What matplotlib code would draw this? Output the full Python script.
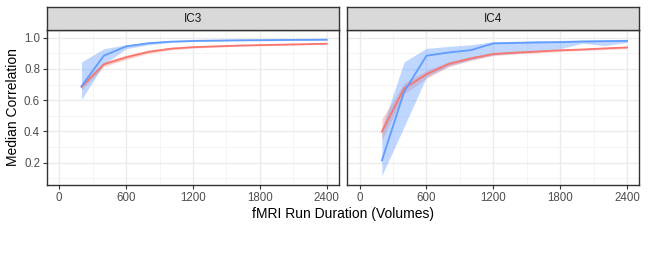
import matplotlib.pyplot as plt
from matplotlib.ticker import MultipleLocator

plt.rcParams['font.family'] = ['Liberation Sans', 'DejaVu Sans']

volumes = [200, 400, 600, 800, 1000, 1200, 1400, 1600, 1800, 2000, 2200, 2400]

# IC3
ic3_blue = [0.69, 0.885, 0.945, 0.965, 0.975, 0.98, 0.982, 0.984, 0.985, 0.986, 0.987, 0.988]
ic3_blue_lo = [0.605, 0.83, 0.93, 0.955, 0.97, 0.976, 0.978, 0.98, 0.981, 0.982, 0.983, 0.984]
ic3_blue_hi = [0.845, 0.93, 0.955, 0.972, 0.979, 0.984, 0.986, 0.988, 0.989, 0.99, 0.991, 0.992]
ic3_red = [0.685, 0.83, 0.875, 0.91, 0.93, 0.94, 0.945, 0.95, 0.953, 0.956, 0.959, 0.962]
ic3_red_lo = [0.665, 0.815, 0.862, 0.9, 0.922, 0.934, 0.94, 0.945, 0.949, 0.952, 0.955, 0.958]
ic3_red_hi = [0.71, 0.845, 0.888, 0.92, 0.938, 0.946, 0.95, 0.955, 0.958, 0.961, 0.963, 0.966]

# IC4
ic4_blue = [0.213, 0.654, 0.885, 0.906, 0.921, 0.964, 0.967, 0.97, 0.972, 0.976, 0.978, 0.98]
ic4_blue_lo = [0.117, 0.43, 0.75, 0.82, 0.86, 0.89, 0.9, 0.91, 0.93, 0.965, 0.95, 0.97]
ic4_blue_hi = [0.42, 0.846, 0.932, 0.945, 0.955, 0.975, 0.978, 0.981, 0.983, 0.986, 0.988, 0.99]
ic4_red = [0.398, 0.676, 0.766, 0.832, 0.868, 0.896, 0.905, 0.912, 0.92, 0.925, 0.932, 0.938]
ic4_red_lo = [0.345, 0.64, 0.74, 0.815, 0.855, 0.886, 0.896, 0.904, 0.912, 0.918, 0.925, 0.931]
ic4_red_hi = [0.48, 0.71, 0.79, 0.848, 0.88, 0.905, 0.913, 0.92, 0.927, 0.932, 0.939, 0.945]

panels = [
    ("IC3", ic3_blue, ic3_blue_lo, ic3_blue_hi, ic3_red, ic3_red_lo, ic3_red_hi),
    ("IC4", ic4_blue, ic4_blue_lo, ic4_blue_hi, ic4_red, ic4_red_lo, ic4_red_hi),
]

BLUE = "#619CFF"
RED = "#F8766D"
BORDER = "#333333"

fig = plt.figure(figsize=(6.48, 2.78), dpi=100)
lefts = [0.0725, 0.536]
for i, (name, b, blo, bhi, r, rlo, rhi) in enumerate(panels):
    ax = fig.add_axes([lefts[i], 0.3345, 0.4506, 0.5576])
    # red first, blue ribbon on top (tints the red line where they overlap)
    ax.fill_between(volumes, rlo, rhi, color=RED, alpha=0.35, lw=0)
    ax.plot(volumes, r, color=RED, lw=1.3)
    ax.fill_between(volumes, blo, bhi, color=BLUE, alpha=0.4, lw=0)
    ax.plot(volumes, b, color=BLUE, lw=1.3)

    ax.set_xlim(-110, 2510)
    ax.set_ylim(0.056, 1.05)
    ax.xaxis.set_major_locator(MultipleLocator(600))
    ax.xaxis.set_minor_locator(MultipleLocator(300))
    ax.yaxis.set_major_locator(MultipleLocator(0.2))
    ax.yaxis.set_minor_locator(MultipleLocator(0.1))
    ax.set_xticks([0, 600, 1200, 1800, 2400])
    ax.grid(which='major', color='#EBEBEB', lw=1.0)
    ax.grid(which='minor', color='#F2F2F2', lw=0.6)
    ax.set_axisbelow(True)
    for s in ax.spines.values():
        s.set_color(BORDER)
        s.set_linewidth(1.0)
    ax.tick_params(which='major', length=3, width=0.8, color=BORDER,
                   labelsize=8.3, labelcolor='#4D4D4D', pad=2)
    ax.tick_params(which='minor', length=0)
    if i == 0:
        ax.set_yticks([0.2, 0.4, 0.6, 0.8, 1.0])
        ax.set_yticklabels(["0.2", "0.4", "0.6", "0.8", "1.0"])
        ax.set_ylabel("Median Correlation", fontsize=10, labelpad=3)
    else:
        ax.tick_params(axis='y', which='both', left=False, labelleft=False)

    # strip
    sax = fig.add_axes([lefts[i], 0.3345 + 0.5576, 0.4506, 0.0817])
    sax.set_facecolor('#D9D9D9')
    sax.set_xticks([])
    sax.set_yticks([])
    for s in sax.spines.values():
        s.set_color(BORDER)
        s.set_linewidth(1.0)
    sax.text(0.5, 0.5, name, ha='center', va='center', fontsize=8.5,
             color='#1A1A1A', transform=sax.transAxes)

fig.text(0.53, 0.232, "fMRI Run Duration (Volumes)", ha='center', va='center',
         fontsize=10)

fig.savefig("out.png", dpi=100)
